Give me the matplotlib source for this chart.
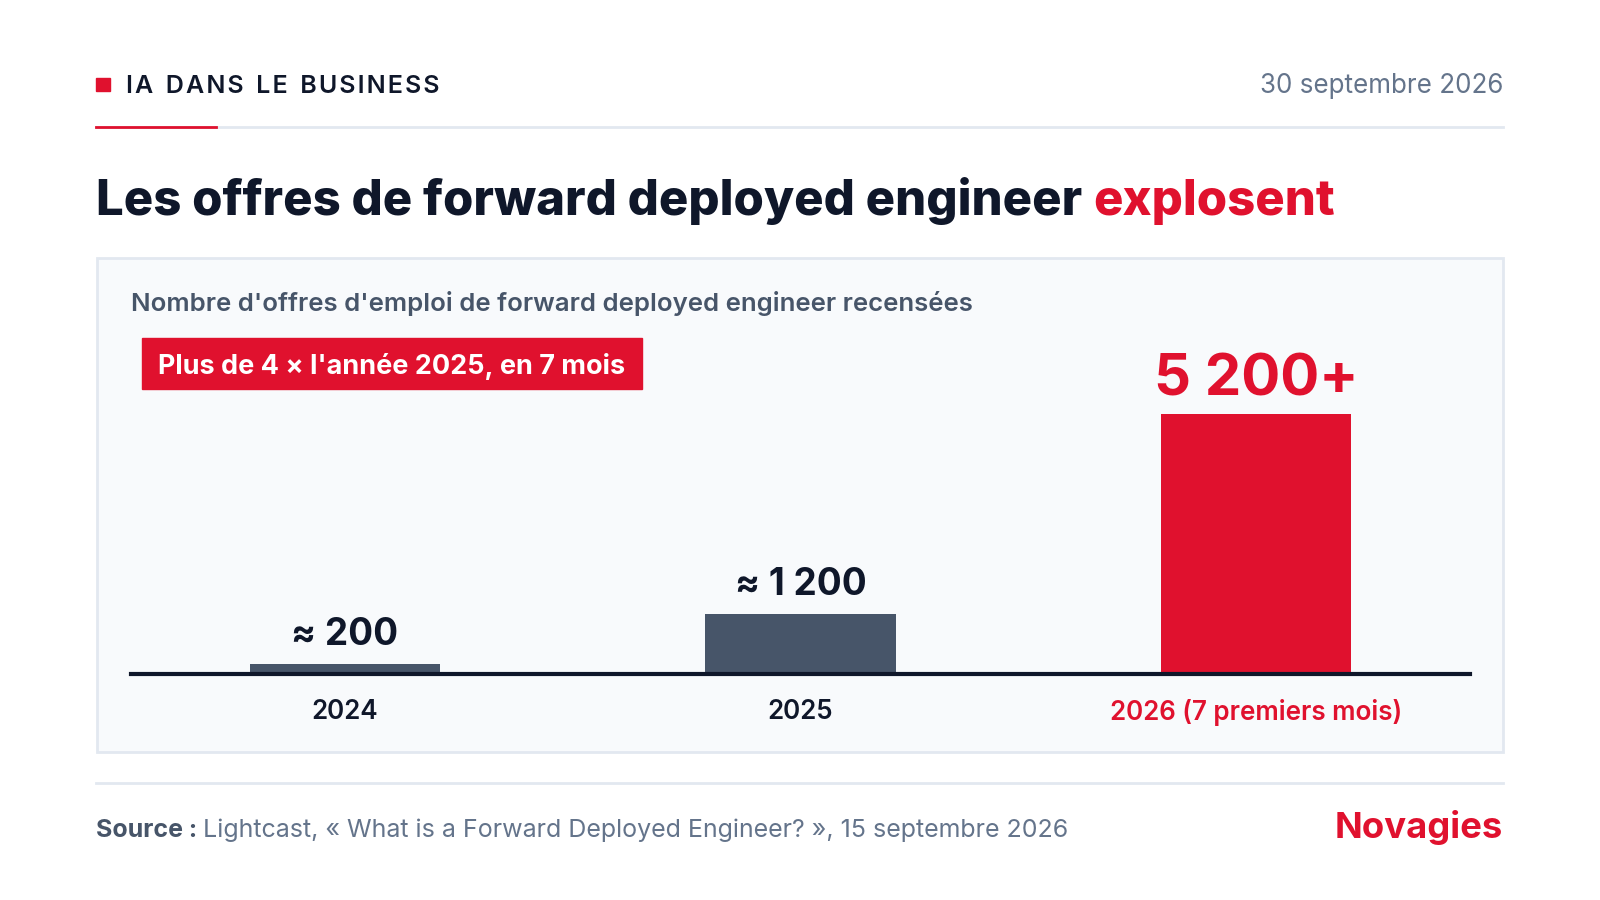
import matplotlib.pyplot as plt
import matplotlib.transforms as mtransforms
from matplotlib.patches import Rectangle

# data
years = ["2024", "2025", "2026 (7 premiers mois)"]
offres = [200, 1200, 5200]
value_labels = ["≈ 200", "≈ 1 200", "5 200+"]

RED = "#e0112e"
SLATE = "#475569"
DARK = "#0f172a"
GREY = "#64748b"
LINE = "#e2e8f0"

W, H = 1600, 900
plt.rcParams["font.family"] = ["Inter", "DejaVu Sans"]

fig = plt.figure(figsize=(16, 9), dpi=100)
fig.patch.set_facecolor("white")


def fx(px):
    return px / W


def fy(py):
    # py measured from the top
    return 1 - py / H


def pt(px):
    # pixel size -> points at 100 dpi
    return px * 0.72


# header
fig.patches.append(Rectangle((fx(96), fy(91)), fx(14), 13 / H, transform=fig.transFigure,
                             color=RED, zorder=2))
kicker = "  ".join("\u200a".join(w) for w in "IA DANS LE BUSINESS".split())
fig.text(fx(126), fy(93), kicker, fontsize=pt(25), fontweight="semibold", color=DARK,
         va="baseline")
fig.text(fx(1503), fy(93), "30 septembre 2026", fontsize=pt(26), color=GREY,
         ha="right", va="baseline")
fig.add_artist(plt.Line2D([fx(96), fx(1503)], [fy(127)] * 2, transform=fig.transFigure,
                          color=LINE, lw=2))
fig.add_artist(plt.Line2D([fx(96), fx(216)], [fy(127)] * 2, transform=fig.transFigure,
                          color=RED, lw=2))

# title in two colours
t1 = fig.text(fx(96), fy(215), "Les offres de forward deployed engineer ",
              fontsize=pt(49), fontweight="heavy", color=DARK, va="baseline")
r = fig.canvas.get_renderer()
bb = t1.get_window_extent(renderer=r)
fig.text(bb.x1 / W, fy(215), "explosent", fontsize=pt(49), fontweight="heavy",
         color=RED, va="baseline")

# panel
fig.patches.append(Rectangle((fx(97), fy(752)), fx(1406), (752 - 258) / H,
                             transform=fig.transFigure, facecolor="#f8fafc",
                             edgecolor=LINE, lw=2, zorder=-1))
fig.text(fx(131), fy(311), "Nombre d'offres d'emploi de forward deployed engineer recensées",
         fontsize=pt(25.8), fontweight="semibold", color=SLATE, va="baseline")

# badge
fig.patches.append(Rectangle((fx(142), fy(389)), fx(500), 51 / H,
                             transform=fig.transFigure, color=RED, zorder=2))
fig.text(fx(392), fy(364), "Plus de 4 × l'année 2025, en 7 mois", fontsize=pt(27),
         fontweight="bold", color="white", ha="center", va="center_baseline", zorder=3)

# bars
ax_top, ax_bot = 340, 674
ax = fig.add_axes([fx(131), fy(ax_bot), fx(1470 - 131), (ax_bot - ax_top) / H])
ax.set_facecolor("none")
x = range(len(years))
colors = [SLATE, SLATE, RED]
ax.bar(x, offres, width=0.418, color=colors, zorder=2)
ax.set_xlim(-0.47, 2.47)
ax.set_ylim(0, (ax_bot - ax_top) / 0.05)
for s in ["top", "right", "left"]:
    ax.spines[s].set_visible(False)
ax.spines["bottom"].set_linewidth(3)
ax.spines["bottom"].set_color(DARK)
ax.set_yticks([])
ax.set_xticks(list(x))
ax.set_xticklabels(years, fontsize=pt(26), fontweight="semibold")
ax.tick_params(axis="x", length=0, pad=18)
for lab, c in zip(ax.get_xticklabels(), [DARK, DARK, RED]):
    lab.set_color(c)

lift = ax.transData + mtransforms.ScaledTranslation(0, 19 / 100, fig.dpi_scale_trans)
for i, (v, lab) in enumerate(zip(offres, value_labels)):
    big = i == 2
    ax.text(i, v, lab, ha="center", va="baseline", fontweight="bold",
            fontsize=pt(58) if big else pt(37), color=RED if big else DARK,
            transform=lift)

# footer
fig.add_artist(plt.Line2D([fx(96), fx(1503)], [fy(783)] * 2, transform=fig.transFigure,
                          color=LINE, lw=2))
s1 = fig.text(fx(96), fy(837), "Source : ", fontsize=pt(25), fontweight="bold",
              color=SLATE, va="baseline")
bb = s1.get_window_extent(renderer=r)
fig.text(bb.x1 / W, fy(837), "Lightcast, « What is a Forward Deployed Engineer? », 15 septembre 2026",
         fontsize=pt(25), color=GREY, va="baseline")
fig.text(fx(1503), fy(838), "Novagies", fontsize=pt(36.5), fontweight="bold",
         color=RED, ha="right", va="baseline")

fig.savefig("out.png", dpi=100)
